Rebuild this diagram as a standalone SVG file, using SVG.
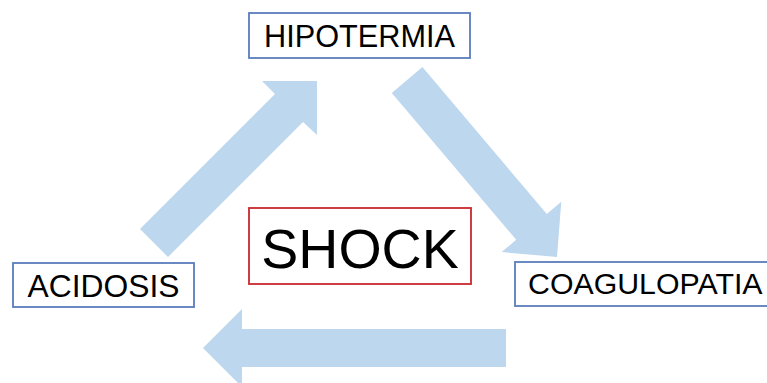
<svg xmlns="http://www.w3.org/2000/svg" width="767" height="383" viewBox="0 0 767 383">
  <style>
    .flow { fill: #bdd7ee; stroke: none; }
    .box { fill: #ffffff; stroke: #5a7dbd; stroke-width: 1.8; }
    .core { fill: #ffffff; stroke: #c8282d; stroke-width: 1.8; }
    .label { font-family: "Liberation Sans", Arial, sans-serif; fill: #000000; }
  </style>
  <rect width="767" height="383" fill="#ffffff"/>

  <!-- cycle arrows -->
  <g id="connectors">
    <!-- ACIDOSIS -> HIPOTERMIA -->
    <polygon class="flow" points="317,81 262,81 275,94 140,229 168,257 303,122 317,135"/>
    <!-- HIPOTERMIA -> COAGULOPATIA -->
    <polygon class="flow" points="557,257 501.7,252.1 516.2,239.8 391.8,92.9 422.4,67.1 546.8,214 561.3,201.7"/>
    <!-- COAGULOPATIA -> ACIDOSIS -->
    <polygon class="flow" points="203,348 242,309 242,329 506,329 506,367 242,367 242,387"/>
  </g>

  <g id="hipotermia">
    <rect class="box" x="249" y="13" width="221" height="45"/>
    <text class="label" x="359.5" y="46.5" font-size="30.7" text-anchor="middle">HIPOTERMIA</text>
  </g>

  <g id="acidosis">
    <rect class="box" x="13" y="263" width="181" height="44"/>
    <text class="label" x="103.5" y="296.5" font-size="31.8" text-anchor="middle">ACIDOSIS</text>
  </g>

  <g id="coagulopatia">
    <rect class="box" x="515" y="262" width="270" height="44"/>
    <text class="label" x="528" y="293.5" font-size="30.3">COAGULOPATIA</text>
  </g>

  <g id="shock">
    <rect class="core" x="249" y="208" width="222" height="76"/>
    <text class="label" x="360" y="267.5" font-size="55.5" text-anchor="middle">SHOCK</text>
  </g>
</svg>
